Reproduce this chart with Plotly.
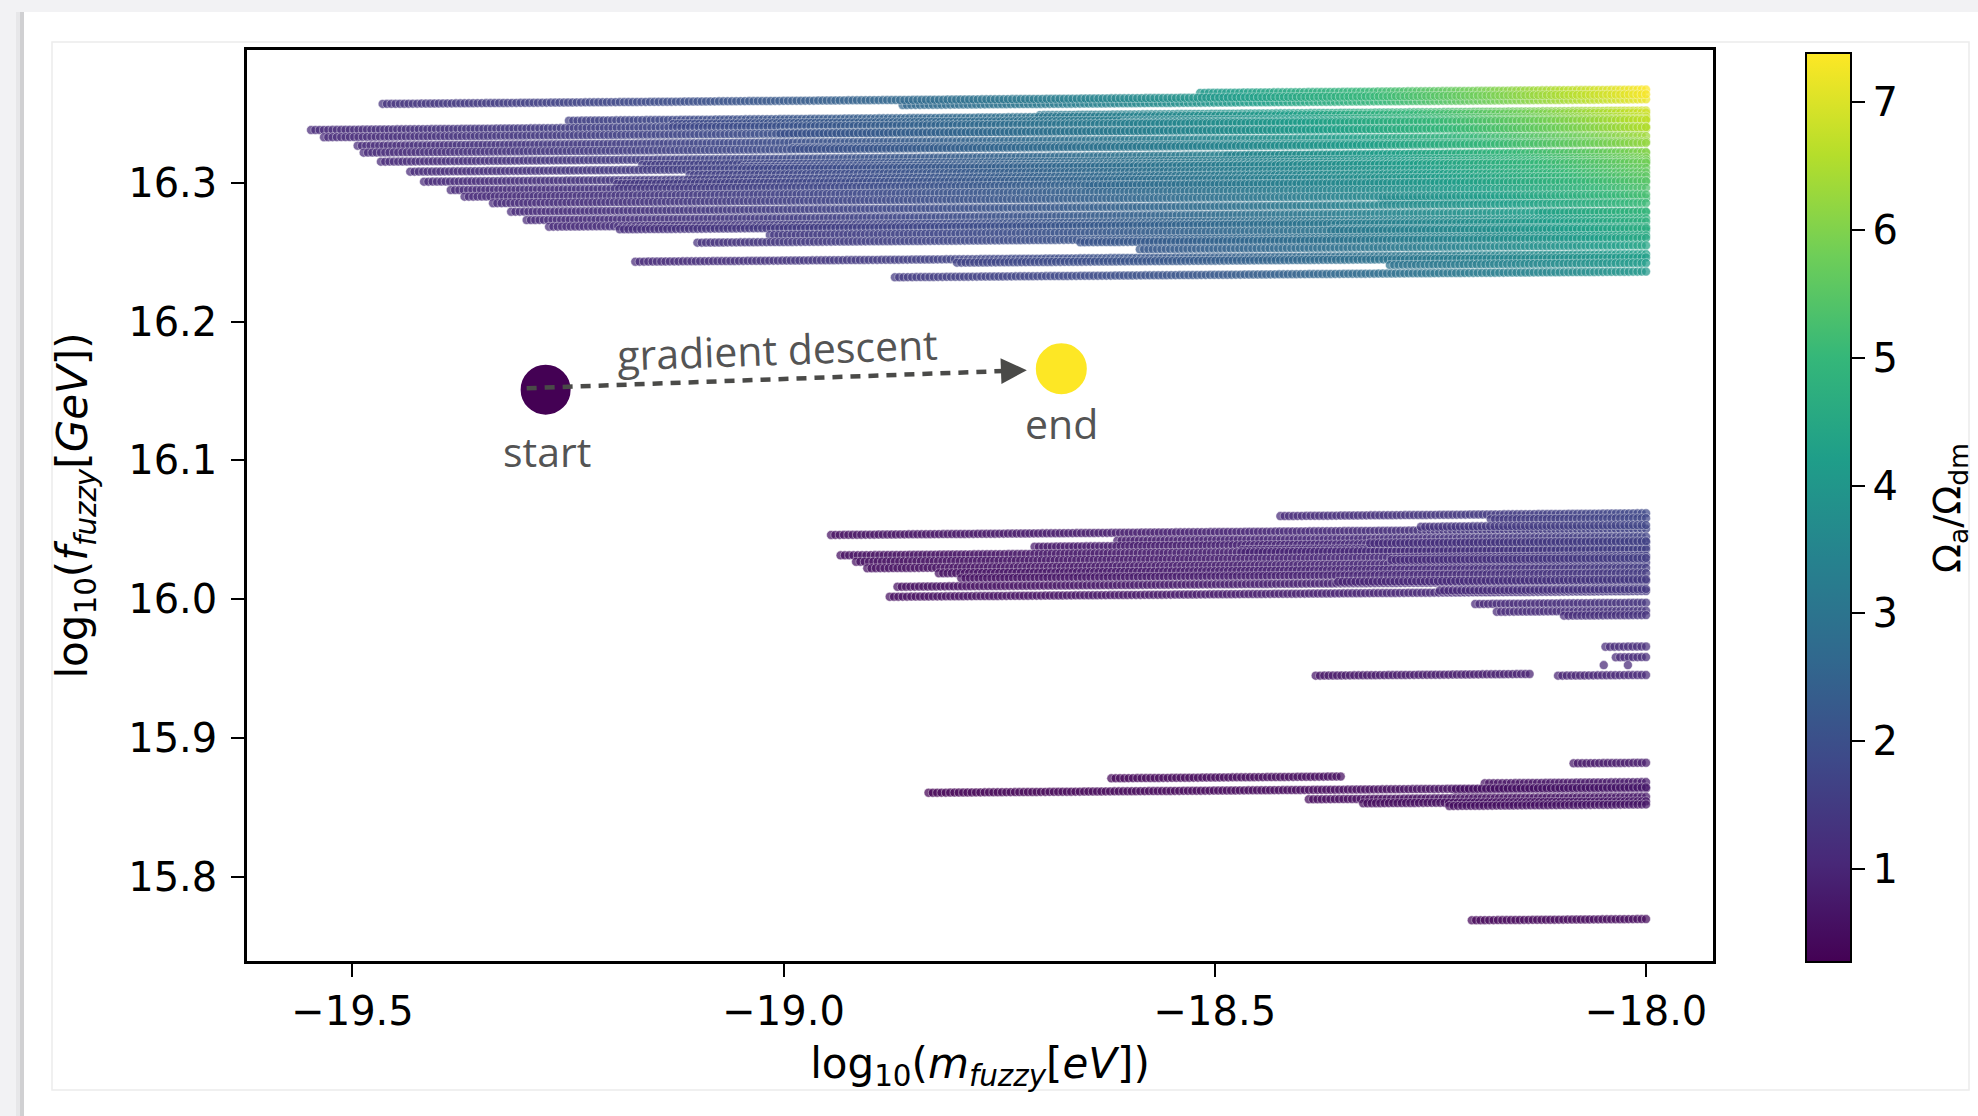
import numpy as np
import plotly.graph_objects as go

# ---------------- data ----------------
# mass-grid step of the scan, log10(m / eV)
M_STEP = 0.005

# every horizontal track: start/end of log10(m), log10(f) at both ends,
# and Omega_a/Omega_dm at both ends
ROW_X_START = [
    -18.517, -18.862, -19.465, -18.703, -19.249, -18.212, -19.128, -18.606, -19.548, -18.224,
    -19.004, -19.533, -19.494, -18.989, -19.487, -18.486, -19.467, -18.148, -19.164, -19.047,
    -18.801, -19.433, -19.109, -19.417, -19.193, -18.648, -19.386, -19.370, -18.306, -19.337,
    -19.316, -18.123, -19.298, -19.272, -19.190, -18.364, -18.195, -19.016, -19.100, -18.656,
    -18.587, -19.172, -18.799, -18.297, -18.871,
    -18.424, -18.180, -18.945, -18.613, -18.709, -18.468, -18.934, -18.916, -18.903, -18.820,
    -18.794, -18.868, -18.877, -18.198, -18.173, -18.095, -18.261, -18.320, -18.295, -18.357,
    -18.239,
    -18.047, -18.035, -18.049, -18.021, -18.383, -18.102,
    -18.084, -18.620, -18.187, -18.221, -18.832, -18.391, -18.328, -18.228,
    -18.202,
]
ROW_X_END = [
    -18.0, -18.0, -18.0, -18.0, -18.0, -18.0, -18.0, -18.0, -18.0, -18.0,
    -18.0, -18.0, -18.0, -18.0, -18.0, -18.0, -18.0, -18.0, -18.0, -18.0,
    -18.0, -18.0, -18.0, -18.0, -18.0, -18.0, -18.0, -18.0, -18.0, -18.0,
    -18.0, -18.0, -18.0, -18.0, -18.0, -18.0, -18.0, -18.0, -18.0, -18.0,
    -18.0, -18.0, -18.0, -18.0, -18.0,
    -18.0, -18.0, -18.0, -18.0, -18.0, -18.0, -18.0, -18.0, -18.0, -18.0,
    -18.0, -18.0, -18.0, -18.0, -18.0, -18.0, -18.0, -18.0, -18.0, -18.0,
    -18.0,
    -18.0, -18.0, -18.049, -18.021, -18.135, -18.0,
    -18.0, -18.354, -18.0, -18.0, -18.0, -18.0, -18.0, -18.0,
    -18.0,
]
ROW_Y_START = [
    16.3646, 16.3559, 16.3567, 16.3486, 16.3446, 16.3439, 16.3423, 16.3432, 16.3379, 16.3379,
    16.3356, 16.3327, 16.3266, 16.3251, 16.3216, 16.3192, 16.3151, 16.3151, 16.3127, 16.3113,
    16.3104, 16.3079, 16.3055, 16.3007, 16.2991, 16.2976, 16.2947, 16.2899, 16.2875, 16.2852,
    16.2791, 16.2782, 16.2731, 16.2683, 16.2664, 16.2664, 16.2647, 16.2623, 16.2568, 16.2571,
    16.2520, 16.2431, 16.2424, 16.2407, 16.2319,
    16.0600, 16.0577, 16.0464, 16.0423, 16.0379, 16.0356, 16.0317, 16.0271, 16.0224, 16.0188,
    16.0152, 16.0091, 16.0019, 15.9967, 15.9911, 15.9883, 16.0523, 16.0404, 16.0284, 16.0127,
    16.0064,
    15.9659, 15.9583, 15.9527, 15.9527, 15.9451, 15.9451,
    15.8820, 15.8712, 15.8676, 15.8628, 15.8608, 15.8561, 15.8532, 15.8513,
    15.7690,
]
ROW_Y_END = [
    16.3670, 16.3600, 16.3636, 16.3519, 16.3505, 16.3449, 16.3476, 16.3460, 16.3452, 16.3390,
    16.3403, 16.3399, 16.3336, 16.3297, 16.3286, 16.3215, 16.3220, 16.3158, 16.3182, 16.3162,
    16.3142, 16.3146, 16.3107, 16.3074, 16.3047, 16.3006, 16.3012, 16.2963, 16.2889, 16.2915,
    16.2853, 16.2788, 16.2792, 16.2743, 16.2720, 16.2681, 16.2656, 16.2671, 16.2620, 16.2602,
    16.2548, 16.2486, 16.2462, 16.2421, 16.2360,
    16.0620, 16.0585, 16.0508, 16.0452, 16.0412, 16.0378, 16.0361, 16.0314, 16.0266, 16.0227,
    16.0189, 16.0132, 16.0060, 15.9976, 15.9919, 15.9887, 16.0535, 16.0419, 16.0298, 16.0144,
    16.0075,
    15.9661, 15.9585, 15.9527, 15.9527, 15.9463, 15.9456,
    15.8824, 15.8725, 15.8685, 15.8638, 15.8647, 15.8579, 15.8547, 15.8524,
    15.7699,
]
ROW_OMEGA_START = [
    4.03, 2.61, 1.31, 3.04, 1.59, 5.23, 1.81, 3.31, 1.09, 5.01,
    2.02, 1.09, 1.10, 1.96, 1.09, 3.40, 1.08, 4.93, 1.51, 1.72,
    2.28, 1.09, 1.56, 1.07, 1.38, 2.56, 1.08, 1.08, 3.62, 1.09,
    1.09, 4.28, 1.08, 1.09, 1.19, 3.07, 3.70, 1.42, 1.26, 2.10,
    2.22, 1.09, 1.67, 2.94, 1.46,
    1.11, 1.45, 0.571, 0.821, 0.720, 0.940, 0.540, 0.541, 0.536, 0.580,
    0.588, 0.525, 0.503, 1.07, 1.08, 1.16, 1.29, 1.14, 1.11, 0.96,
    1.07,
    1.11, 1.08, 1.04, 1.07, 0.684, 0.947,
    0.721, 0.370, 0.600, 0.565, 0.277, 0.450, 0.477, 0.531,
    0.374,
]
ROW_OMEGA_END = [
    7.38, 7.18, 7.30, 6.92, 6.88, 6.70, 6.78, 6.73, 6.71, 6.52,
    6.56, 6.55, 6.36, 6.25, 6.22, 6.02, 6.03, 5.86, 5.92, 5.87,
    5.82, 5.83, 5.72, 5.64, 5.57, 5.46, 5.48, 5.36, 5.18, 5.24,
    5.09, 4.94, 4.95, 4.84, 4.79, 4.70, 4.65, 4.68, 4.57, 4.54,
    4.42, 4.30, 4.25, 4.17, 4.06,
    1.82, 1.79, 1.73, 1.69, 1.65, 1.63, 1.62, 1.58, 1.55, 1.52,
    1.49, 1.45, 1.41, 1.35, 1.32, 1.30, 1.75, 1.66, 1.57, 1.46,
    1.42,
    1.17, 1.13, 1.04, 1.07, 0.915, 1.07,
    0.796, 0.506, 0.747, 0.731, 0.734, 0.711, 0.701, 0.694,
    0.474,
]

# gradient-descent illustration
START_POINT = (-19.276, 16.151)
END_POINT = (-18.678, 16.166)
ARROW_TAIL = (-19.298, 16.152)
ARROW_TIP = (-18.718, 16.165)
LABEL_GD = (-19.007, 16.180)
LABEL_START = (-19.274, 16.107)
LABEL_END = (-18.678, 16.127)

X_TICKS = [-19.5, -19.0, -18.5, -18.0]
Y_TICKS = [15.8, 15.9, 16.0, 16.1, 16.2, 16.3]
CB_TICKS = [1, 2, 3, 4, 5, 6, 7]
X_RANGE = [-19.6223, -17.9223]
Y_RANGE = [15.7397, 16.3955]
C_RANGE = [0.27, 7.38]

# ---------------- expand tracks on the mass grid ----------------
xs, ys, cs = [], [], []
for x0, x1, y0, y1, o0, o1 in zip(ROW_X_START, ROW_X_END, ROW_Y_START,
                                  ROW_Y_END, ROW_OMEGA_START, ROW_OMEGA_END):
    n = int(round((x1 - x0) / M_STEP)) + 1
    xs.append(np.linspace(x0, x1, n))
    ys.append(np.linspace(y0, y1, n))
    cs.append(np.geomspace(o0, o1, n))
xs = np.concatenate(xs)
ys = np.concatenate(ys)
cs = np.concatenate(cs)

W, H = 1978, 1116
ML, MR, MT, MB = 247, 265, 50, 155
PW, PH = W - ML - MR, H - MT - MB


def px(X):
    return (X - ML) / PW


def py(Y):
    return (H - MB - Y) / PH


TICK_FONT = dict(family="DejaVu Sans", size=40, color="black")
TITLE_FONT = dict(family="DejaVu Sans", size=42, color="black")
ANN_FONT = dict(family="Open Sans", size=41, color="#545454")
ARROW_COLOR = "#4a4a48"

fig = go.Figure()

fig.add_trace(go.Scatter(
    x=xs, y=ys, mode="markers",
    marker=dict(
        size=9, color=cs, colorscale="Viridis", cmin=C_RANGE[0], cmax=C_RANGE[1],
        opacity=0.72, line=dict(color="white", width=0.5),
        colorbar=dict(
            x=px(1806), xanchor="left", xref="paper", xpad=0, ypad=0,
            y=py(508), yanchor="middle", len=(962 - 53) / PH, lenmode="fraction",
            thickness=45, outlinewidth=2, outlinecolor="black",
            ticks="outside", ticklen=13, tickwidth=2, tickcolor="black",
            tickvals=CB_TICKS, tickfont=TICK_FONT,
        ),
    ),
    showlegend=False, hoverinfo="skip",
))

# start / end points
fig.add_trace(go.Scatter(
    x=[START_POINT[0]], y=[START_POINT[1]], mode="markers",
    marker=dict(size=53, color="#440154", line=dict(color="white", width=3)),
    showlegend=False, hoverinfo="skip",
))
fig.add_trace(go.Scatter(
    x=[END_POINT[0]], y=[END_POINT[1]], mode="markers",
    marker=dict(size=54, color="#fde725", line=dict(color="white", width=3)),
    showlegend=False, hoverinfo="skip",
))

# dashed path of the gradient descent (drawn over the start circle)
frac = 0.96
fig.add_trace(go.Scatter(
    x=[ARROW_TAIL[0], ARROW_TAIL[0] + frac * (ARROW_TIP[0] - ARROW_TAIL[0])],
    y=[ARROW_TAIL[1], ARROW_TAIL[1] + frac * (ARROW_TIP[1] - ARROW_TAIL[1])],
    mode="lines", line=dict(color=ARROW_COLOR, width=4.5, dash="10px,8px"),
    showlegend=False, hoverinfo="skip",
))

annotations = [
    dict(x=ARROW_TIP[0], y=ARROW_TIP[1], xref="x", yref="y", text="",
         showarrow=True, arrowhead=2, arrowsize=1.15, arrowwidth=4.5,
         arrowcolor=ARROW_COLOR, ax=-14, ay=0.5, standoff=0),
    dict(x=LABEL_GD[0], y=LABEL_GD[1], xref="x", yref="y", text="gradient descent",
         showarrow=False, textangle=-2, font=ANN_FONT),
    dict(x=LABEL_START[0], y=LABEL_START[1], xref="x", yref="y", text="start",
         showarrow=False, font=ANN_FONT),
    dict(x=LABEL_END[0], y=LABEL_END[1], xref="x", yref="y", text="end",
         showarrow=False, font=ANN_FONT),
    # colour-bar title
    dict(x=px(1949), y=py(508), xref="paper", yref="paper",
         text="Ω<sub>a</sub>/Ω<sub>dm</sub>", showarrow=False, textangle=-90,
         font=dict(family="DejaVu Sans", size=38, color="black"),
         xanchor="center", yanchor="middle"),
]

shapes = [
    # page background strips (grey) around the white card
    dict(type="rect", xref="paper", yref="paper", x0=px(0), x1=px(W), y0=py(12), y1=py(0),
         fillcolor="#f2f2f4", line=dict(width=0), layer="below"),
    dict(type="rect", xref="paper", yref="paper", x0=px(0), x1=px(16), y0=py(H), y1=py(0),
         fillcolor="#f2f2f4", line=dict(width=0), layer="below"),
    dict(type="rect", xref="paper", yref="paper", x0=px(16), x1=px(20), y0=py(H), y1=py(12),
         fillcolor="#e7e7e9", line=dict(width=0), layer="below"),
    dict(type="rect", xref="paper", yref="paper", x0=px(20), x1=px(24), y0=py(H), y1=py(12),
         fillcolor="#d0d0d2", line=dict(width=0), layer="below"),
    # faint frame of the figure
    dict(type="rect", xref="paper", yref="paper", x0=px(52), x1=px(1969), y0=py(1090), y1=py(42),
         fillcolor="rgba(0,0,0,0)", line=dict(color="#ececec", width=1.5), layer="below"),
]

axis_common = dict(
    showline=True, linecolor="black", linewidth=2.5, mirror=True,
    ticks="outside", ticklen=13, tickwidth=2, tickcolor="black",
    showgrid=False, zeroline=False, tickfont=TICK_FONT, tickformat=".1f",
)

fig.update_layout(
    width=W, height=H, autosize=False,
    margin=dict(l=ML, r=MR, t=MT, b=MB),
    paper_bgcolor="white", plot_bgcolor="rgba(0,0,0,0)",
    xaxis=dict(range=X_RANGE, tickvals=X_TICKS, ticklabelstandoff=0,
               title=dict(text="log<sub>10</sub>(<i>m</i><sub><i>fuzzy</i></sub>[<i>eV</i>])",
                          font=TITLE_FONT, standoff=16),
               **axis_common),
    yaxis=dict(range=Y_RANGE, tickvals=Y_TICKS, ticklabelstandoff=6,
               title=dict(text="log<sub>10</sub>(<i>f</i><sub><i>fuzzy</i></sub>[<i>GeV</i>])",
                          font=TITLE_FONT, standoff=28),
               **axis_common),
    annotations=annotations, shapes=shapes,
    showlegend=False,
)

fig.write_html(
    "out.html",
    config={"displayModeBar": False},
    post_script="document.body.style.margin='0';document.body.style.overflow='hidden';",
)
